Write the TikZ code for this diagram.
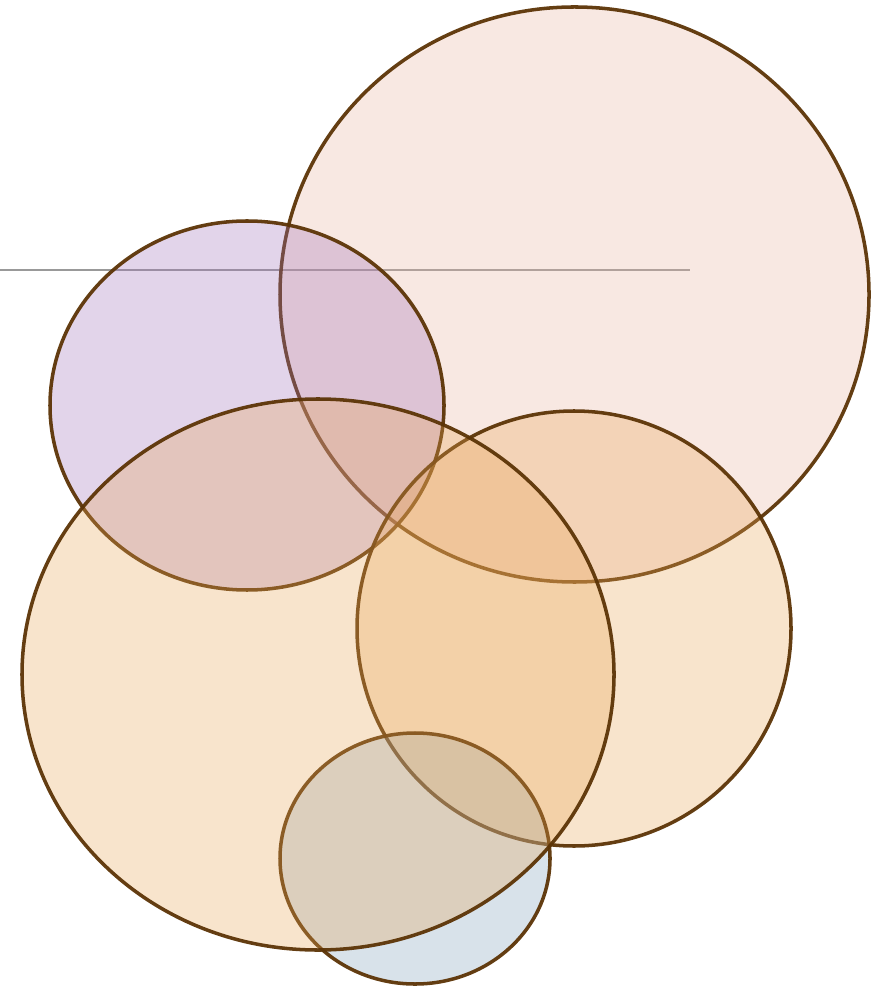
\documentclass[tikz,border=0pt]{standalone}
\usepackage{tikz}
\definecolor{RimBrown}{RGB}{92, 52, 6}
\definecolor{BlushPink}{RGB}{232, 178, 158}
\definecolor{Lilac}{RGB}{158, 112, 185}
\definecolor{Apricot}{RGB}{232, 165, 85}
\definecolor{Slate}{RGB}{125, 158, 185}
\tikzset{
  blob/.style={draw=RimBrown, draw opacity=0.95, line width=1pt, fill opacity=0.3},
}

\begin{document}
\begin{tikzpicture}[x=0.01cm, y=-0.01cm]
      \useasboundingbox (0,0) rectangle (876,989);

      % Guide line
      \draw[gray, line width=0.6pt, opacity=0.8] (0,270) -- (690,270);

      % Circles
      \draw[blob, fill=BlushPink] (574.5,294.5) ellipse [x radius=294.5, y radius=287.5];
      \draw[blob, fill=Lilac] (247,405.5) ellipse [x radius=197, y radius=184.5];
      \draw[blob, fill=Apricot] (574,628.5) ellipse [x radius=217, y radius=217.5];
      \draw[blob, fill=Slate] (415,858.5) ellipse [x radius=135, y radius=125.5];
      \draw[blob, fill=Apricot] (318,674.5) ellipse [x radius=296, y radius=275.5];
    \end{tikzpicture}
\end{document}
